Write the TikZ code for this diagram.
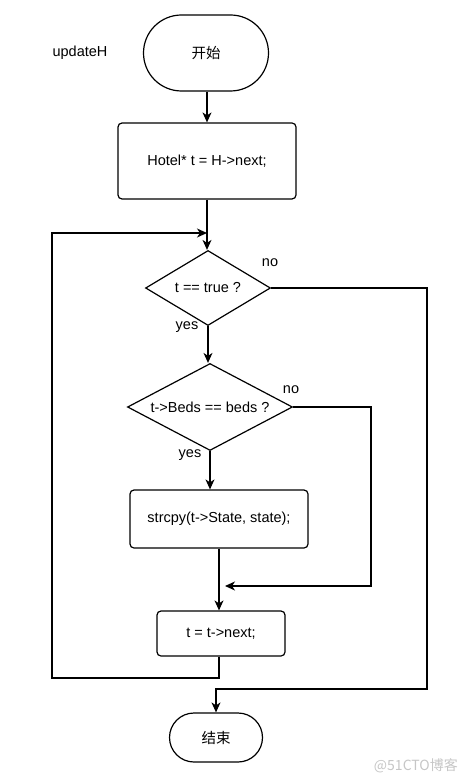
\documentclass[tikz,border=0pt]{standalone}
\usepackage{fontspec}
\setmainfont{Liberation Sans}
\newfontfamily\cjk{Noto Sans CJK SC}
\usetikzlibrary{arrows.meta, shapes.geometric, shapes.misc}

\begin{document}
\begin{tikzpicture}[x=1pt, y=-1pt,
        every node/.style={font=\fontsize{14.5}{17}\selectfont, inner sep=0pt},
        term/.style={draw, rounded rectangle, line width=1.2pt, minimum width=125pt, minimum height=76pt},
        proc/.style={draw, rectangle, rounded corners=4pt, line width=1.2pt},
        cond/.style={draw, diamond, aspect=1.8, line width=1.2pt},
        line/.style={line width=1.2pt},
        arr/.style={line, -{Stealth[length=10pt, width=9pt, inset=3pt]}}]
        \useasboundingbox (0,0) rectangle (468,783);

        %---------------- Nodes ----------------%
        \node (title) at (80,53) {updateH};
        \node[term] (start) at (206,53) {\cjk 开始};
        \node[proc, minimum width=178pt, minimum height=76pt] (init) at (207,161) {Hotel* t = H->next;};
        \node[cond, minimum width=125pt, minimum height=75pt] (isT) at (208,288) {t == true ?};
        \node[cond, minimum width=165pt, minimum height=87pt] (isBeds) at (210,407) {t->Beds == beds ?};
        \node[proc, minimum width=178pt, minimum height=58pt] (copy) at (219,519) {strcpy(t->State, state);};
        \node[proc, minimum width=128pt, minimum height=45pt] (step) at (221,633.5) {t = t->next;};
        \node[term, minimum width=93pt, minimum height=49pt] (stop) at (216,737.5) {\cjk 结束};

        % 标签
        \node (noA) at (270,263) {no};
        \node (yesA) at (187,327) {yes};
        \node (noB) at (291,390) {no};
        \node (yesB) at (190,455) {yes};

        % 汇合点
        \coordinate (join) at (207,233);
        \coordinate (merge) at (225,586);
        \coordinate (loopBL) at (52,678);
        \coordinate (exitR) at (427,689);
        \coordinate (skipR) at (371,586);

        %---------------- Edges ----------------%
        \draw[arr] (start.south -| init.north) -- (init.north);
        \draw[arr] (init.south) -- (init.south |- isT.north);
        \draw[arr] (isT.south) -- (isT.south |- isBeds.north);
        \draw[arr] (isBeds.south) -- (isBeds.south |- copy.north);
        \draw[arr] (copy.south) -- (copy.south |- step.north);
        % 循环回边
        \draw[arr] (step.south -| copy.south) |- (loopBL) |- (join);
        % no 分支
        \draw[arr] (isT.east) -| (exitR) -| (stop.north);
        \draw[arr] (isBeds.east) -| (skipR) -- (merge);

        % 水印
        \node[anchor=east, text=gray!45, font=\cjk\fontsize{14}{16}\selectfont] (mark) at (458,766) {@51CTO博客};
\end{tikzpicture}
\end{document}
